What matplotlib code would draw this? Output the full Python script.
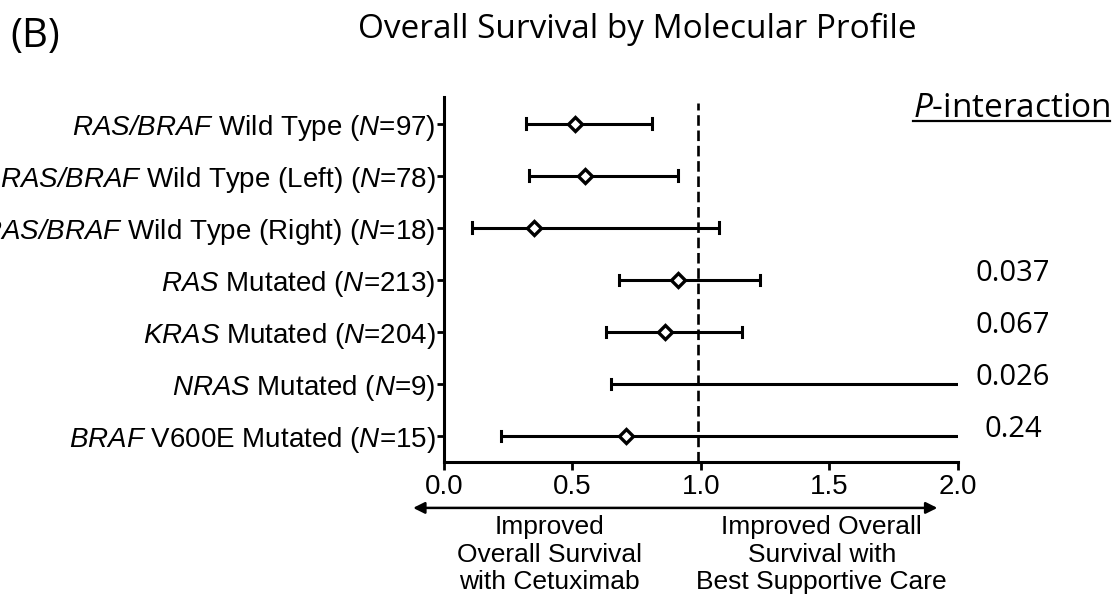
import numpy as np
import matplotlib
matplotlib.use("Agg")
import matplotlib.pyplot as plt
from matplotlib.lines import Line2D

plt.rcParams['font.family'] = ['Liberation Sans', 'DejaVu Sans']
# math parts are only used for the italic gene names / N, so rm -> italic face
plt.rcParams['mathtext.fontset'] = 'custom'
plt.rcParams['mathtext.rm'] = 'Liberation Sans:italic'
plt.rcParams['mathtext.it'] = 'Open Sans:italic'

# datos (HR e IC 95%)
etiquetas = [
    r'$\mathrm{RAS/BRAF}$ Wild Type ($\mathrm{N}$=97)',
    r'$\mathrm{RAS/BRAF}$ Wild Type (Left) ($\mathrm{N}$=78)',
    r'$\mathrm{RAS/BRAF}$ Wild Type (Right) ($\mathrm{N}$=18)',
    r'$\mathrm{RAS}$ Mutated ($\mathrm{N}$=213)',
    r'$\mathrm{KRAS}$ Mutated ($\mathrm{N}$=204)',
    r'$\mathrm{NRAS}$ Mutated ($\mathrm{N}$=9)',
    r'$\mathrm{BRAF}$ V600E Mutated ($\mathrm{N}$=15)',
]
hr = [0.51, 0.55, 0.35, 0.91, 0.86, np.nan, 0.71]
ic_inf = [0.32, 0.33, 0.11, 0.68, 0.63, 0.65, 0.22]
ic_sup = [0.81, 0.91, 1.07, 1.23, 1.16, 2.0, 2.0]
tapa_sup = [True, True, True, True, True, False, False]  # IC superior fuera de escala -> sin tope
p_inter = ['', '', '', '0.037', '0.067', '0.026', '0.24']
xticks = [0.0, 0.5, 1.0, 1.5, 2.0]

fig = plt.figure(figsize=(11.2, 6.05), dpi=100)
ax = fig.add_axes([0.3964, 0.2364, 0.4589, 0.6025])

n = len(etiquetas)
y = np.arange(n)[::-1]
lw = 2.2

for i in range(n):
    ax.plot([ic_inf[i], ic_sup[i]], [y[i], y[i]], color='black', lw=lw, solid_capstyle='butt', zorder=3)
    ax.plot([ic_inf[i], ic_inf[i]], [y[i] - 0.1, y[i] + 0.1], color='black', lw=lw, zorder=3)
    if tapa_sup[i]:
        ax.plot([ic_sup[i], ic_sup[i]], [y[i] - 0.1, y[i] + 0.1], color='black', lw=lw, zorder=3)
    if not np.isnan(hr[i]):
        ax.plot(hr[i], y[i], marker='D', ms=7, mfc='white', mec='black', mew=2.4, zorder=4)

ax.plot([0.99, 0.99], [-0.5, 6.4], color='black', lw=1.9, ls=(0, (4, 1.8)), zorder=2)

ax.set_xlim(0, 2.0)
ax.set_ylim(-0.5, n - 0.5)
ax.set_yticks(y)
ax.set_yticklabels(etiquetas, fontsize=20)
ax.set_xticks(xticks)
ax.set_xticklabels([f'{t:.1f}' for t in xticks], fontsize=20)
ax.tick_params(axis='y', width=2.0, length=5, direction='out', pad=1)
ax.tick_params(axis='x', width=2.0, length=6, direction='out', pad=3)
ax.spines['top'].set_visible(False)
ax.spines['right'].set_visible(False)
ax.spines['left'].set_linewidth(2.2)
ax.spines['bottom'].set_linewidth(2.2)

# flecha doble bajo el eje
ax.annotate('', xy=(-0.12, -0.126), xytext=(1.92, -0.126),
            xycoords=('data', 'axes fraction'), textcoords=('data', 'axes fraction'),
            arrowprops=dict(arrowstyle='<|-|>', color='black', lw=1.8, mutation_scale=17,
                            shrinkA=0, shrinkB=0), annotation_clip=False)
ax.text(0.41, -0.145, 'Improved\nOverall Survival\nwith Cetuximab', transform=ax.get_xaxis_transform(),
        ha='center', va='top', fontsize=19, linespacing=1.2)
ax.text(1.47, -0.145, 'Improved Overall\nSurvival with\nBest Supportive Care', transform=ax.get_xaxis_transform(),
        ha='center', va='top', fontsize=19, linespacing=1.2)

# columna P-interaction
for i in range(n):
    if p_inter[i]:
        ax.text(2.214, y[i] + 0.12, p_inter[i], transform=ax.transData, ha='center', va='center',
                fontsize=21, family='Open Sans', clip_on=False)

titulo_p = fig.text(913 / 1120, 1 - 117 / 605, r'$\mathit{P}$-interaction', ha='left', va='baseline',
                    fontsize=24, family='Open Sans')

fig.text(637 / 1120, 1 - 38 / 605, 'Overall Survival by Molecular Profile', ha='center', va='baseline',
         fontsize=24, family='Open Sans')
fig.text(10 / 1120, 1 - 47 / 605, '(B)', ha='left', va='baseline', fontsize=29, family='Open Sans')

# subrayado de P-interaction
fig.canvas.draw()
bb = titulo_p.get_window_extent().transformed(fig.transFigure.inverted())
yl = 1 - 121 / 605
fig.add_artist(Line2D([bb.x0, bb.x1], [yl, yl], color='black', lw=1.6))

fig.savefig('out.png', dpi=100)
